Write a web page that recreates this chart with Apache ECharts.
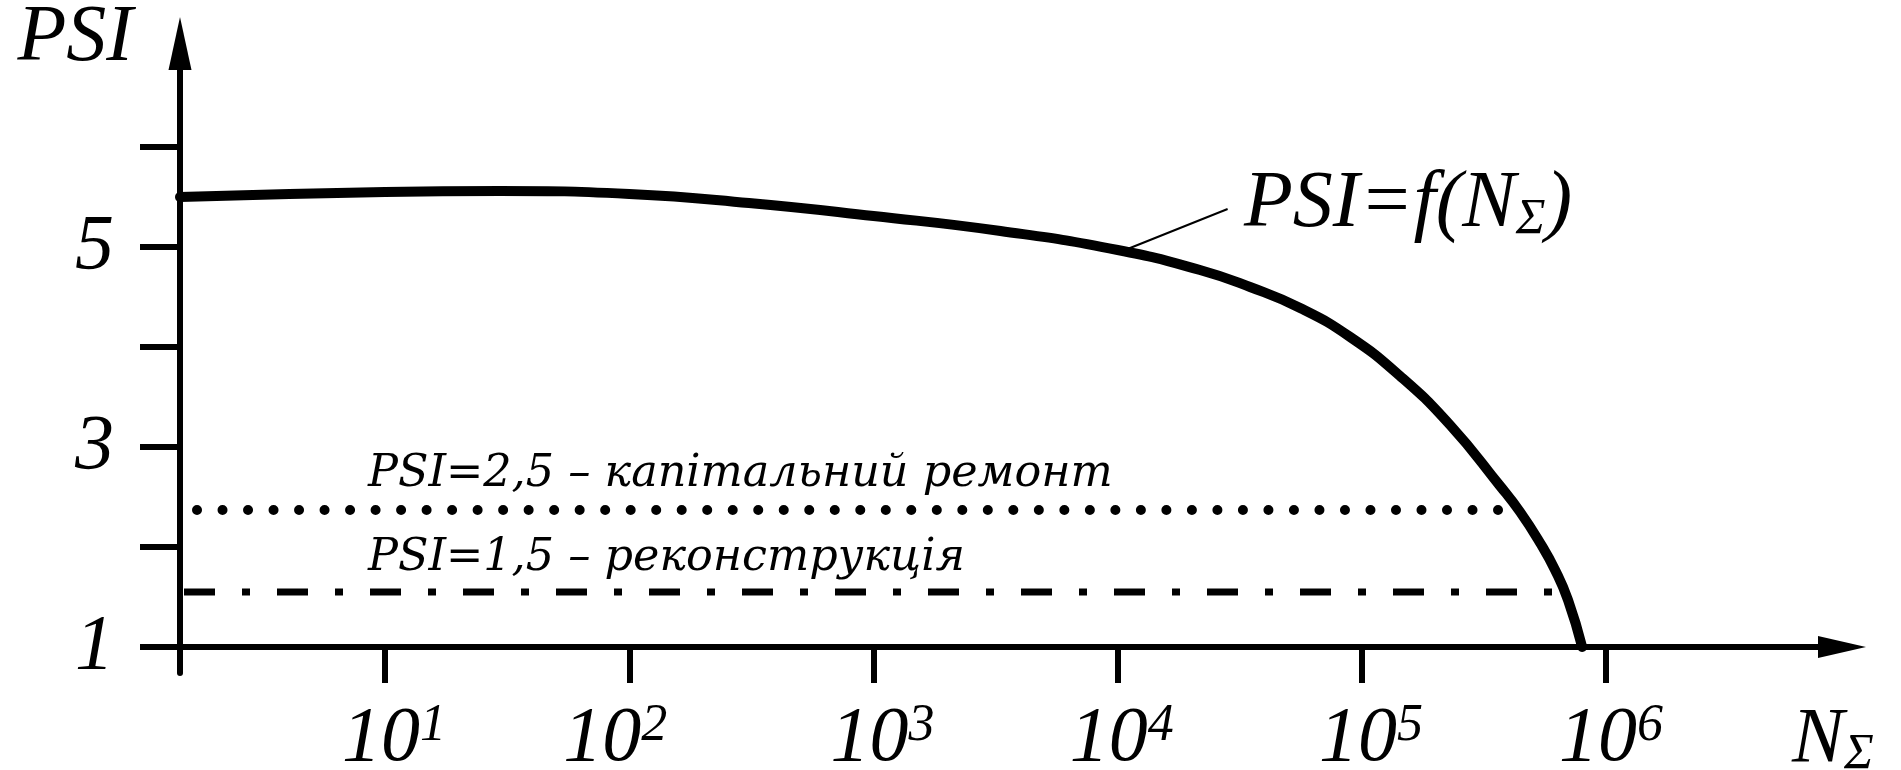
<!DOCTYPE html>
<html>
<head>
<meta charset="utf-8">
<script src="https://cdn.jsdelivr.net/npm/echarts@6/dist/echarts.min.js"></script>
<style>
html,body{margin:0;padding:0;background:#fff;}
#c{width:1901px;height:770px;}
</style>
</head>
<body>
<div id="c"></div>
<script>
// ---- data (x values are log10 of N_Σ) ----
const curveLogN = [0.16, 1.0, 1.47, 2.0, 2.49, 3.0, 3.52, 4.0, 4.337, 4.542, 4.747, 4.952, 5.156, 5.361, 5.566, 5.648, 5.730, 5.791, 5.844, 5.902];
const curvePSI  = [5.50, 5.55, 5.56, 5.53, 5.44, 5.31, 5.16, 4.97, 4.77, 4.60, 4.39, 4.10, 3.71, 3.22, 2.61, 2.35, 2.04, 1.77, 1.47, 1.00];

const capitalRepairLogN = [0.16, 5.566];
const capitalRepairPSI  = [2.37, 2.37];
const reconstructionLogN = [0.16, 5.80];
const reconstructionPSI  = [1.55, 1.55];

const leaderLogN = [4.03, 4.45];
const leaderPSI  = [4.97, 5.38];

const xTickExponents = [1, 2, 3, 4, 5, 6];
const yTickValues = [1, 2, 3, 4, 5, 6];
const yTickLabels = [1, 3, 5];

const curveLabel = ['PSI=f(N', 'Σ', ')'];
const capitalRepairLabel = 'PSI=2,5 – капітальний ремонт';
const reconstructionLabel = 'PSI=1,5 – реконструкція';

// ---- chart ----
const pairs = (xs, ys) => xs.map((x, i) => [x, ys[i]]);
const serif = '"Liberation Serif","Times New Roman",serif';
const slab = '"DejaVu Serif",serif';
// small horizontal nudges of the hand-placed tick labels (px, + = right)
const xLabelNudge = {1: 9, 2: -14, 3: 9, 4: 4, 5: 9, 6: 5};

const chart = echarts.init(document.getElementById('c'), null, {renderer: 'canvas'});

const xLabelRich = {
  b: {fontFamily: serif, fontStyle: 'italic', fontSize: 78, lineHeight: 78, color: '#000'},
  s: {fontFamily: serif, fontStyle: 'italic', fontSize: 52, lineHeight: 48, verticalAlign: 'top', color: '#000'}
};
for (let w = 1; w <= 40; w++) xLabelRich['g' + w] = {width: w, fontSize: 10, lineHeight: 10};

const option = {
  animation: false,
  backgroundColor: '#ffffff',
  grid: {left: 180, right: 59, top: 43.5, bottom: 97, outerBoundsMode: 'none', containLabel: false},
  xAxis: {
    type: 'value', min: 0.16, max: 6.966, offset: -26,
    axisLine: {onZero: false, symbol: ['none', 'triangle'], symbolSize: [22, 48],
      lineStyle: {color: '#000', width: 6}},
    axisTick: {show: true, customValues: xTickExponents, length: 36, inside: false,
      lineStyle: {color: '#000', width: 6}},
    axisLabel: {
      customValues: xTickExponents, margin: 53,
      formatter: v => {
        const n = xLabelNudge[v] || 0;
        const core = '{b|10}{s|' + v + '}';
        if (n > 0) return '{g' + (2 * n) + '| }' + core;
        if (n < 0) return core + '{g' + (-2 * n) + '| }';
        return core;
      },
      rich: xLabelRich
    },
    splitLine: {show: false},
    name: '{n|N}{s|Σ}', nameLocation: 'end', nameGap: -50,
    nameTextStyle: {
      align: 'left', verticalAlign: 'top', padding: [53, 0, 0, 0],
      rich: {
        n: {fontFamily: serif, fontStyle: 'italic', fontSize: 78, lineHeight: 80, color: '#000'},
        s: {fontFamily: serif, fontStyle: 'italic', fontSize: 50, lineHeight: 44, verticalAlign: 'bottom', color: '#000'}
      }
    }
  },
  yAxis: {
    type: 'value', min: 0.74, max: 7.035,
    axisLine: {onZero: false, symbol: ['none', 'triangle'], symbolSize: [23, 53],
      lineStyle: {color: '#000', width: 6}},
    axisTick: {show: true, customValues: yTickValues, length: 40, inside: false,
      lineStyle: {color: '#000', width: 6}},
    axisLabel: {
      customValues: yTickLabels, margin: 66, padding: [0, 0, 38, 0],
      fontFamily: serif, fontStyle: 'italic', fontSize: 78, lineHeight: 78, color: '#000'
    },
    splitLine: {show: false},
    name: 'PSI', nameLocation: 'end', nameGap: 4.5,
    nameTextStyle: {fontFamily: serif, fontStyle: 'italic', fontSize: 80, color: '#000',
      align: 'right', verticalAlign: 'middle', padding: [0, 47, 0, 0]}
  },
  series: [
    {
      name: 'capital repair', type: 'line', data: pairs(capitalRepairLogN, capitalRepairPSI),
      showSymbol: false, symbol: 'none', silent: true, z: 3,
      lineStyle: {color: '#000', width: 10, type: [0.01, 25.5], dashOffset: 8.5, cap: 'round'}
    },
    {
      name: 'reconstruction', type: 'line', data: pairs(reconstructionLogN, reconstructionPSI),
      showSymbol: false, symbol: 'none', silent: true, z: 3,
      lineStyle: {color: '#000', width: 7, type: [31, 27, 8, 27], dashOffset: 89, cap: 'butt'}
    },
    {
      name: 'leader', type: 'line', data: pairs(leaderLogN, leaderPSI),
      showSymbol: false, symbol: 'none', silent: true, z: 4,
      lineStyle: {color: '#000', width: 2}
    },
    {
      name: 'PSI=f(N)', type: 'line', data: pairs(curveLogN, curvePSI),
      showSymbol: false, symbol: 'none', silent: true, z: 5,
      smooth: 0.5,
      lineStyle: {color: '#000', width: 10, cap: 'round', join: 'round'}
    }
  ],
  graphic: [
    {
      type: 'text', x: 1244, y: 205, silent: true,
      style: {
        text: '{m|' + curveLabel[0] + '}{sub|' + curveLabel[1] + '}{m|' + curveLabel[2] + '}',
        align: 'left', verticalAlign: 'middle', fill: '#000',
        rich: {
          m: {fontFamily: serif, fontStyle: 'italic', fontSize: 80, lineHeight: 80, fill: '#000'},
          sub: {fontFamily: serif, fontStyle: 'italic', fontSize: 50, lineHeight: 44, verticalAlign: 'bottom', fill: '#000'}
        }
      }
    },
    {
      type: 'text', x: 368, y: 474, silent: true,
      style: {text: capitalRepairLabel, font: 'italic 44.5px ' + slab, fill: '#000',
        align: 'left', verticalAlign: 'middle'}
    },
    {
      type: 'text', x: 368, y: 558, silent: true,
      style: {text: reconstructionLabel, font: 'italic 44.5px ' + slab, fill: '#000',
        align: 'left', verticalAlign: 'middle'}
    }
  ]
};
chart.setOption(option);
</script>
</body>
</html>
